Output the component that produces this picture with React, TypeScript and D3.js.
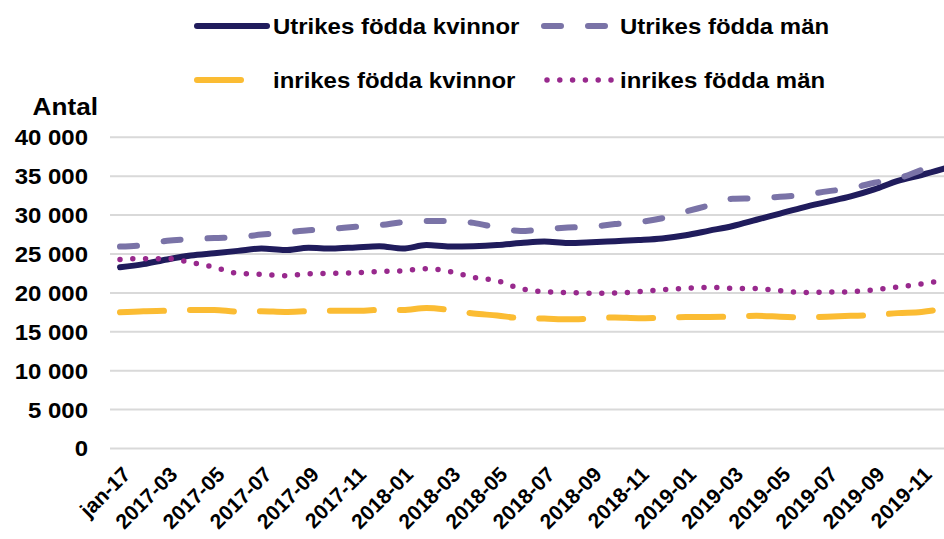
import * as d3 from "d3";

const months = [
  "2017-01", "2017-02", "2017-03", "2017-04", "2017-05", "2017-06",
  "2017-07", "2017-08", "2017-09", "2017-10", "2017-11", "2017-12",
  "2018-01", "2018-02", "2018-03", "2018-04", "2018-05", "2018-06",
  "2018-07", "2018-08", "2018-09", "2018-10", "2018-11", "2018-12",
  "2019-01", "2019-02", "2019-03", "2019-04", "2019-05", "2019-06",
  "2019-07", "2019-08", "2019-09", "2019-10", "2019-11", "2019-12",
];

const tickLabels = [
  "jan-17", "2017-03", "2017-05", "2017-07", "2017-09", "2017-11",
  "2018-01", "2018-03", "2018-05", "2018-07", "2018-09", "2018-11",
  "2019-01", "2019-03", "2019-05", "2019-07", "2019-09", "2019-11",
];

const utrikesKvinnor = [
  23300, 23700, 24300, 24800, 25100, 25400, 25700, 25500, 25800, 25700, 25850, 26000,
  25700, 26150, 25950, 26000, 26150, 26400, 26600, 26400, 26500, 26650, 26800, 27000,
  27400, 28000, 28600, 29400, 30200, 31000, 31700, 32400, 33300, 34400, 35150, 36000,
];
const utrikesMan = [
  25950, 26150, 26700, 26900, 27050, 27150, 27500, 27750, 28050, 28250, 28500, 28700,
  29100, 29250, 29250, 29000, 28400, 27950, 28200, 28400, 28500, 28850, 29100, 29600,
  30450, 31250, 32100, 32150, 32350, 32600, 33050, 33450, 34150, 34700, 35800, 36850,
];
const inrikesKvinnor = [
  17500, 17650, 17700, 17800, 17800, 17600, 17650, 17550, 17650, 17700, 17700, 17800,
  17800, 18050, 17800, 17350, 17100, 16750, 16700, 16600, 16700, 16850, 16750, 16800,
  16900, 16900, 16950, 17050, 16950, 16850, 16950, 17050, 17150, 17400, 17550, 18000,
];
const inrikesMan = [
  24300, 24400, 24400, 23900, 23300, 22500, 22400, 22200, 22450, 22500, 22600, 22750,
  22850, 23100, 22750, 22000, 21550, 20550, 20150, 20050, 19950, 20000, 20150, 20400,
  20600, 20700, 20600, 20550, 20300, 20050, 20100, 20150, 20400, 20750, 21150, 21650,
];

const yTicks = [0, 5000, 10000, 15000, 20000, 25000, 30000, 35000, 40000];

const series = [
  { name: "Utrikes födda kvinnor", values: utrikesKvinnor, color: "#201c5c", width: 6, dash: "none" },
  { name: "Utrikes födda män", values: utrikesMan, color: "#7a73a7", width: 6, dash: "17,27" },
  { name: "inrikes födda kvinnor", values: inrikesKvinnor, color: "#fbbc33", width: 6, dash: "44,26" },
  { name: "inrikes födda män", values: inrikesMan, color: "#98298d", width: 5.5, dash: "0,12.8" },
];

const W = 944;
const H = 539;
const font = "'Liberation Sans', Arial, sans-serif";
// the source image is a bit stretched sideways
const SX = 1.09;

export default function App() {
  const x = d3.scalePoint().domain(months).range([120, 945]);
  const y = d3.scaleLinear().domain([0, 40000]).range([448.5, 137.3]);
  const fmt = d3.formatLocale({ thousands: " ", grouping: [3], decimal: ",", currency: ["", ""] }).format(",");

  const line = d3
    .line<number>()
    .x((_, i) => x(months[i]) as number)
    .y((d) => y(d))
    .curve(d3.curveMonotoneX);

  const tickMonths = months.filter((_, i) => i % 2 === 0);

  const legend = [
    { s: series[0], lx: 197, tx: 273, ly: 26 },
    { s: series[1], lx: 544, tx: 620, ly: 26 },
    { s: series[2], lx: 197, tx: 273, ly: 80 },
    { s: series[3], lx: 547, tx: 620, ly: 80 },
  ];

  return (
    <svg
      width={W}
      height={H}
      style={{ position: "absolute", left: 0, top: 0, background: "#fff" }}
      fontFamily={font}
      fontWeight="bold"
    >
      <clipPath id="plot">
        <rect x={0} y={0} width={W} height={H} />
      </clipPath>

      {yTicks.map((t) => (
        <g key={t}>
          <line x1={110} x2={W} y1={y(t)} y2={y(t)} stroke="#d9d9d9" strokeWidth={2} />
          <text
            transform={`translate(88,${y(t)}) scale(${SX},1)`}
            dy="0.36em"
            textAnchor="end"
            fontSize={22}
            fill="#000"
          >
            {fmt(t)}
          </text>
        </g>
      ))}

      <text transform={`translate(98,115) scale(${SX},1)`} textAnchor="end" fontSize={24} fill="#000">
        Antal
      </text>

      {tickMonths.map((m, i) => {
        const px = x(m) as number;
        return (
          <text
            key={m}
            transform={`translate(${px + 1},${465}) rotate(-45)`}
            textAnchor="end"
            dy="0.72em"
            fontSize={21}
            fill="#000"
          >
            {tickLabels[i]}
          </text>
        );
      })}

      <g clipPath="url(#plot)">
        {series.map((s) => (
          <path
            key={s.name}
            d={line(s.values) as string}
            fill="none"
            stroke={s.color}
            strokeWidth={s.width}
            strokeDasharray={s.dash === "none" ? undefined : s.dash}
            strokeLinecap="round"
            strokeLinejoin="round"
          />
        ))}
      </g>

      {legend.map(({ s, lx, tx, ly }) => (
        <g key={s.name}>
          <line
            x1={lx}
            x2={lx + 70}
            y1={ly}
            y2={ly}
            stroke={s.color}
            strokeWidth={s.width}
            strokeDasharray={s.dash === "none" ? undefined : s.dash}
            strokeLinecap="round"
          />
          <text
            transform={`translate(${tx},${ly}) scale(${SX},1)`}
            dy="0.36em"
            fontSize={22}
            fill="#000"
          >
            {s.name}
          </text>
        </g>
      ))}
    </svg>
  );
}
